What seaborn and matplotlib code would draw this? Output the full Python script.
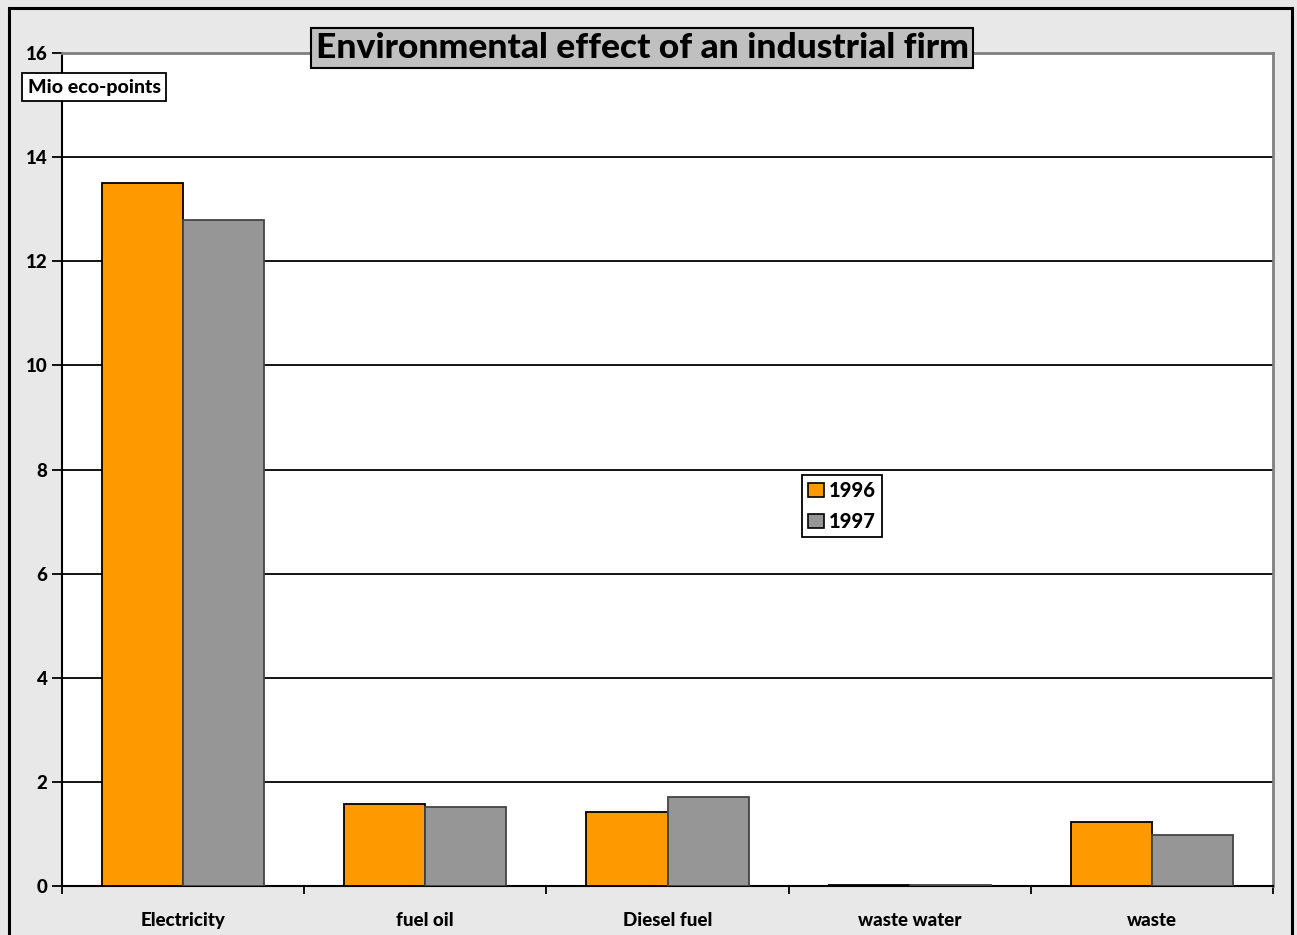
import pandas as pd
import matplotlib.pyplot as plt
import seaborn as sns
from matplotlib.patches import Rectangle

# Chart values
categories = ["Electricity", "fuel oil", "Diesel fuel", "waste water", "waste"]
values_1996 = [13.5, 1.58, 1.43, 0.02, 1.23]
values_1997 = [12.8, 1.51, 1.70, 0.02, 0.97]
years = ["1996", "1997"]
y_ticks = [0, 2, 4, 6, 8, 10, 12, 14, 16]

df = pd.DataFrame({
    "category": categories * 2,
    "year": [years[0]] * len(categories) + [years[1]] * len(categories),
    "value": values_1996 + values_1997,
})

sns.set_theme(style="white")
plt.rcParams["font.family"] = ["Lato", "DejaVu Sans"]
plt.rcParams["text.color"] = "black"
plt.rcParams["xtick.color"] = "black"
plt.rcParams["ytick.color"] = "black"
plt.rcParams["xtick.labelcolor"] = "black"
plt.rcParams["ytick.labelcolor"] = "black"

W = 900  # heaviest weight available

fig = plt.figure(figsize=(12.97, 9.35), dpi=100)
fig.patch.set_facecolor("#e8e8e8")
# outer frame of the chart
fig.patches.append(Rectangle((8.5 / 1297, -0.05), 1283 / 1297, 1.05 - 7.5 / 935,
                             transform=fig.transFigure, fill=False,
                             edgecolor="black", linewidth=2.2, zorder=0))

ax = fig.add_axes([62 / 1297, 1 - 886 / 935, 1211 / 1297, 833 / 935])
ax.set_facecolor("white")

palette = {"1996": "#ff9900", "1997": "#969696"}
sns.barplot(data=df, x="category", y="value", hue="year", palette=palette,
            width=0.67, saturation=1, ax=ax, zorder=3, legend=True)

# bar edges: black for orange, dark gray for gray
for i, cont in enumerate(ax.containers):
    for bar in cont:
        bar.set_edgecolor("black" if i == 0 else "#444444")
        bar.set_linewidth(1.3)

ax.set_ylim(0, 16)
ax.set_xlim(-0.5, len(categories) - 0.5)
ax.set_yticks(y_ticks)
ax.set_yticklabels([str(t) for t in y_ticks], fontsize=13.5, fontweight=W)
ax.set_xticks(range(len(categories)))
ax.set_xticklabels(categories, fontsize=13.5, fontweight=W)
ax.set_xticks([i - 0.5 for i in range(len(categories) + 1)], minor=True)
ax.tick_params(axis="x", which="major", length=0, pad=19)
ax.tick_params(axis="x", which="minor", length=6, width=1.3, direction="out",
               color="black", bottom=True)
ax.tick_params(axis="y", length=7, width=1.3, direction="out", color="black",
               left=True, pad=3.5)
ax.set_xlabel("")
ax.set_ylabel("")

for y in y_ticks[1:-1]:
    ax.axhline(y, color="black", linewidth=1.3, zorder=1)

ax.spines["left"].set_color("black")
ax.spines["bottom"].set_color("black")
ax.spines["left"].set_linewidth(1.5)
ax.spines["bottom"].set_linewidth(1.5)
ax.spines["top"].set_color("#808080")
ax.spines["right"].set_color("#808080")
ax.spines["top"].set_linewidth(2)
ax.spines["right"].set_linewidth(2)

leg = ax.legend(loc="center", frameon=True, fancybox=False,
                prop={"size": 14.5, "weight": W}, handlelength=0.75,
                handleheight=0.75, handletextpad=0.25, borderpad=0.3,
                labelspacing=0.6, borderaxespad=0)
leg.set_bbox_to_anchor(((842 - 62) / 1211, 1 - (506 - 53) / 833), transform=ax.transAxes)
leg.get_frame().set_edgecolor("black")
leg.get_frame().set_linewidth(1.3)
leg.get_frame().set_facecolor("white")
leg.get_frame().set_alpha(1)
leg.set_zorder(5)
for h in leg.legend_handles:
    h.set_edgecolor("black")
    h.set_linewidth(1.2)

fig.text(642 / 1297, 1 - 48 / 935, "Environmental effect of an industrial firm",
         ha="center", va="center", fontsize=25.5, fontweight=W,
         bbox=dict(boxstyle="square,pad=0.12", facecolor="#c0c0c0",
                   edgecolor="black", linewidth=1.5), zorder=10)

fig.text(94 / 1297, 1 - 87 / 935, "Mio eco-points", ha="center", va="center",
         fontsize=14, fontweight=W,
         bbox=dict(boxstyle="square,pad=0.3", facecolor="white",
                   edgecolor="black", linewidth=1.3), zorder=10)

fig.savefig("out.png", dpi=100, facecolor=fig.get_facecolor())
